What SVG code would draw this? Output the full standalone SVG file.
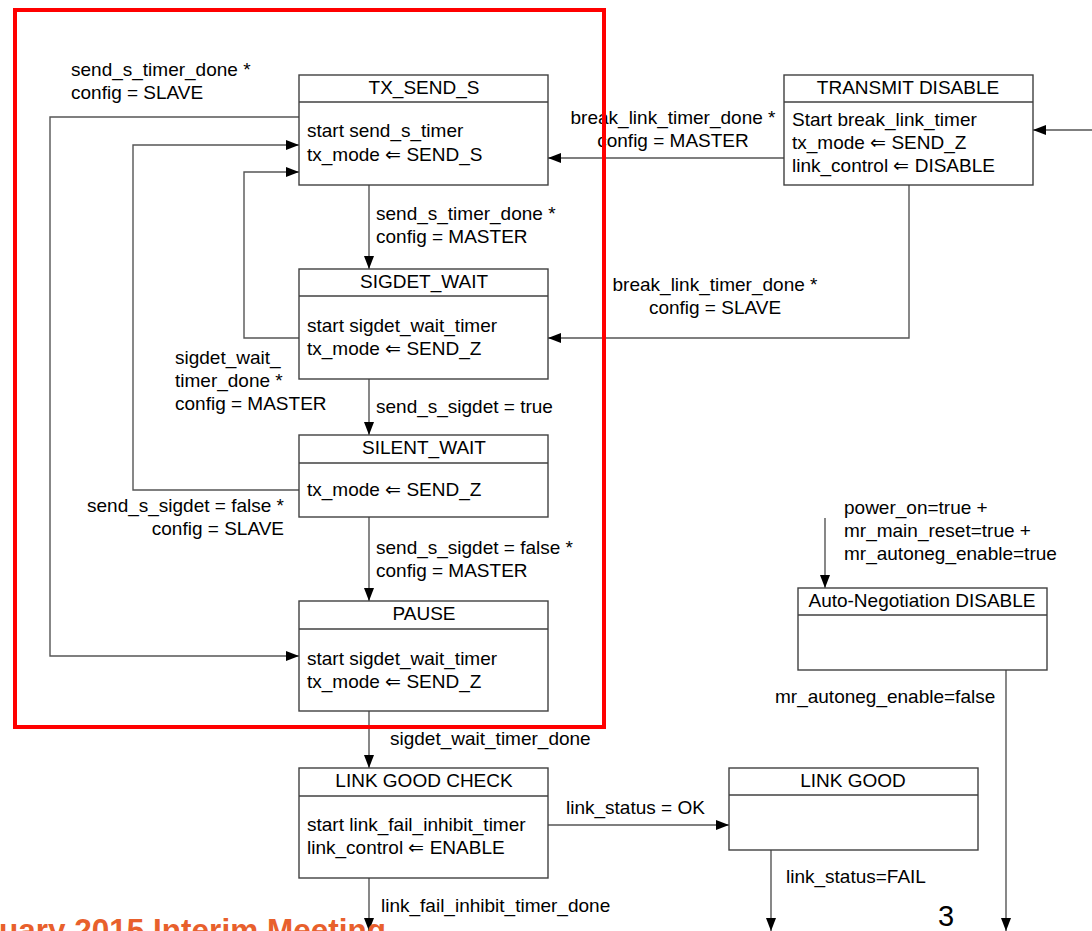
<svg xmlns="http://www.w3.org/2000/svg" width="1092" height="931" viewBox="0 0 1092 931">
<defs>
<marker id="ah" viewBox="0 0 13 10" refX="13" refY="5" markerWidth="13" markerHeight="10" markerUnits="userSpaceOnUse" orient="auto">
<path d="M0,0 L13,5 L0,10 z" fill="#000"/>
</marker>
<style>
text{font-family:"Liberation Sans",Arial,sans-serif;font-size:19px;fill:#000}
.box{fill:#fff;stroke:#404040;stroke-width:1.4}
.div{stroke:#404040;stroke-width:1.4}
.t{text-anchor:middle}
.r{text-anchor:end}
.c{fill:none;stroke:#555;stroke-width:1.4}
.ca{fill:none;stroke:#555;stroke-width:1.4;marker-end:url(#ah)}
</style>
</defs>
<rect width="1092" height="931" fill="#fff"/>
<g id="connectors">
<polyline class="ca" points="299,117 50,117 50,656 299,656"/>
<polyline class="ca" points="299,490 133,490 133,145 299,145"/>
<polyline class="ca" points="299,338 244,338 244,172 299,172"/>
<line class="ca" x1="369" y1="185" x2="369" y2="269"/>
<line class="ca" x1="369" y1="379" x2="369" y2="435"/>
<line class="ca" x1="369" y1="517" x2="369" y2="601"/>
<line class="ca" x1="369" y1="711" x2="369" y2="768"/>
<line class="ca" x1="369" y1="878" x2="369" y2="931"/>
<line class="ca" x1="548" y1="825" x2="729" y2="825"/>
<line class="ca" x1="771" y1="850" x2="771" y2="931"/>
<line class="ca" x1="1006" y1="670" x2="1006" y2="931"/>
<line class="ca" x1="825" y1="518" x2="825" y2="588"/>
<line class="ca" x1="784" y1="158" x2="548" y2="158"/>
<polyline class="ca" points="909,185 909,338 548,338"/>
<line class="ca" x1="1092" y1="130" x2="1033" y2="130"/>
<text x="71" y="76">send_s_timer_done *</text>
<text x="71" y="99">config = SLAVE</text>
<text class="r" x="284" y="512">send_s_sigdet = false *</text>
<text class="r" x="284" y="535">config = SLAVE</text>
<text x="175" y="364">sigdet_wait_</text>
<text x="175" y="387">timer_done *</text>
<text x="175" y="410">config = MASTER</text>
<text x="376" y="220">send_s_timer_done *</text>
<text x="376" y="243">config = MASTER</text>
<text x="376" y="413">send_s_sigdet = true</text>
<text x="376" y="554">send_s_sigdet = false *</text>
<text x="376" y="577">config = MASTER</text>
<text x="390" y="745">sigdet_wait_timer_done</text>
<text x="381" y="912">link_fail_inhibit_timer_done</text>
<text x="566" y="814">link_status = OK</text>
<text x="786" y="883">link_status=FAIL</text>
<text x="775" y="703">mr_autoneg_enable=false</text>
<text x="844" y="514">power_on=true +</text>
<text x="844" y="537">mr_main_reset=true +</text>
<text x="844" y="560">mr_autoneg_enable=true</text>
<text class="t" x="673" y="124">break_link_timer_done *</text>
<text class="t" x="673" y="147">config = MASTER</text>
<text class="t" x="715" y="291">break_link_timer_done *</text>
<text class="t" x="715" y="314">config = SLAVE</text>
</g>
<rect x="15" y="10" width="589" height="717" fill="none" stroke="#f00" stroke-width="4"/>
<g id="tx_send_s">
<rect class="box" x="299" y="75" width="249" height="110"/>
<line class="div" x1="299" y1="102" x2="548" y2="102"/>
<text class="t" x="424" y="94">TX_SEND_S</text>
<text x="307" y="137">start send_s_timer</text>
<text x="307" y="161">tx_mode ⇐ SEND_S</text>
</g>
<g id="sigdet_wait">
<rect class="box" x="299" y="269" width="249" height="110"/>
<line class="div" x1="299" y1="296" x2="548" y2="296"/>
<text class="t" x="424" y="288">SIGDET_WAIT</text>
<text x="307" y="332">start sigdet_wait_timer</text>
<text x="307" y="355">tx_mode ⇐ SEND_Z</text>
</g>
<g id="silent_wait">
<rect class="box" x="299" y="435" width="249" height="82"/>
<line class="div" x1="299" y1="463" x2="548" y2="463"/>
<text class="t" x="424" y="454">SILENT_WAIT</text>
<text x="307" y="496">tx_mode ⇐ SEND_Z</text>
</g>
<g id="pause">
<rect class="box" x="299" y="601" width="249" height="110"/>
<line class="div" x1="299" y1="629" x2="548" y2="629"/>
<text class="t" x="424" y="620">PAUSE</text>
<text x="307" y="665">start sigdet_wait_timer</text>
<text x="307" y="688">tx_mode ⇐ SEND_Z</text>
</g>
<g id="link_good_check">
<rect class="box" x="299" y="768" width="249" height="110"/>
<line class="div" x1="299" y1="796" x2="548" y2="796"/>
<text class="t" x="424" y="787">LINK GOOD CHECK</text>
<text x="307" y="831">start link_fail_inhibit_timer</text>
<text x="307" y="854">link_control ⇐ ENABLE</text>
</g>
<g id="transmit_disable">
<rect class="box" x="784" y="75" width="249" height="110"/>
<line class="div" x1="784" y1="102" x2="1033" y2="102"/>
<text class="t" x="908" y="94">TRANSMIT DISABLE</text>
<text x="792" y="126">Start break_link_timer</text>
<text x="792" y="149">tx_mode ⇐ SEND_Z</text>
<text x="792" y="172">link_control ⇐ DISABLE</text>
</g>
<g id="link_good">
<rect class="box" x="729" y="768" width="249" height="82"/>
<line class="div" x1="729" y1="795" x2="978" y2="795"/>
<text class="t" x="853" y="787">LINK GOOD</text>
</g>
<g id="an_disable">
<rect class="box" x="798" y="588" width="249" height="82"/>
<line class="div" x1="798" y1="615" x2="1047" y2="615"/>
<text class="t" x="922" y="607">Auto-Negotiation DISABLE</text>
</g>
<text x="-1" y="941" style="font-size:31.5px;font-weight:bold;fill:#E8602C">uary 2015 Interim Meeting</text>
<text class="t" x="946" y="926" style="font-size:29px">3</text>
</svg>
